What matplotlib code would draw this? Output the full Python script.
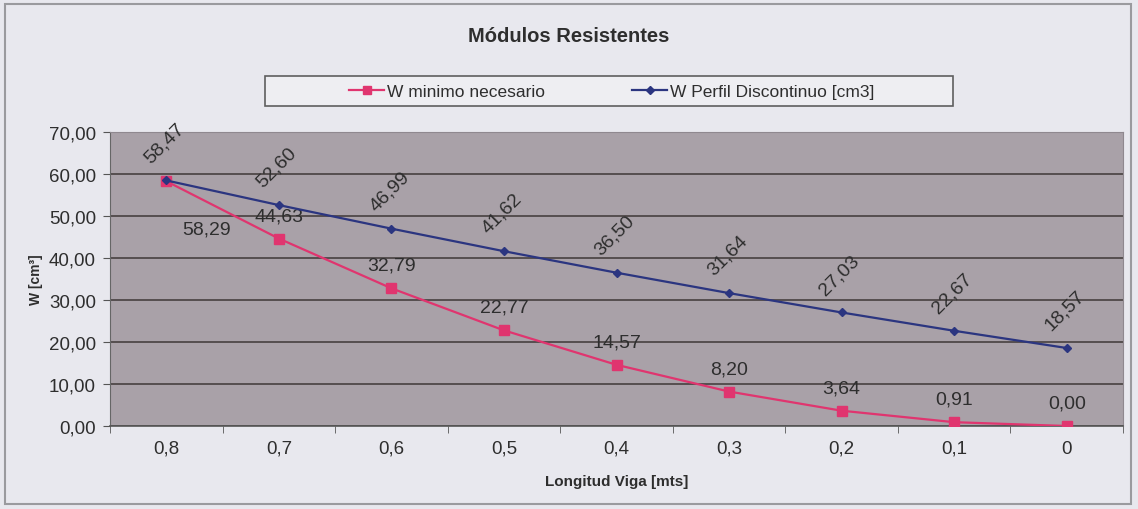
import numpy as np
import matplotlib.pyplot as plt
from matplotlib.lines import Line2D
from matplotlib.patches import Rectangle
from matplotlib.ticker import FixedLocator, FuncFormatter

plt.rcParams['font.family'] = ['Liberation Sans', 'DejaVu Sans']

# ------------------------------------------------------------------
# Datos
# ------------------------------------------------------------------
longitud = ["0,8", "0,7", "0,6", "0,5", "0,4", "0,3", "0,2", "0,1", "0"]
w_perfil = [58.47, 52.60, 46.99, 41.62, 36.50, 31.64, 27.03, 22.67, 18.57]
w_minimo = [58.29, 44.63, 32.79, 22.77, 14.57, 8.20, 3.64, 0.91, 0.00]

col_bg = "#e8e8ee"
col_plot = "#a9a1a8"
col_grid = "#4f4848"
col_rosa = "#e0356f"
col_azul = "#2b3580"
col_txt = "#2e2e2e"

fig = plt.figure(figsize=(11.38, 5.10), dpi=100, facecolor=col_bg)
W, H = 1138, 510

# marco del grafico
fig.patches.append(Rectangle((5 / W, 5 / H), 1126 / W, 500 / H, transform=fig.transFigure,
                             fill=False, edgecolor="#9a9a9e", linewidth=1.5))

ax = fig.add_axes([110 / W, (H - 427) / H, 1013 / W, 294 / H])
ax.set_facecolor(col_plot)

x = np.arange(len(longitud))
ax.plot(x, w_minimo, color=col_rosa, lw=1.6, marker="s", ms=6.5, zorder=3)
ax.plot(x, w_perfil, color=col_azul, lw=1.6, marker="D", ms=4.5, zorder=4)

ax.set_xlim(-0.5, len(longitud) - 0.5)
ax.set_ylim(0, 70)

# eje y
ax.yaxis.set_major_locator(FixedLocator(np.arange(0, 71, 10)))
ax.yaxis.set_major_formatter(FuncFormatter(lambda v, p: f"{v:.2f}".replace(".", ",")))
ax.grid(axis="y", color=col_grid, lw=1.3)
ax.set_axisbelow(True)

# eje x: etiquetas centradas, marcas entre categorias
ax.set_xticks(x)
ax.set_xticklabels(longitud)
ax.set_xticks(np.arange(-0.5, len(longitud), 1), minor=True)
ax.tick_params(axis="x", which="major", length=0, pad=10)
ax.tick_params(axis="x", which="minor", length=5, color="#555555", direction="out")
ax.tick_params(axis="y", length=5, color="#555555", pad=5)
ax.tick_params(labelsize=13.5, labelcolor=col_txt)

for s in ["top", "right"]:
    ax.spines[s].set_color("#8f888f")
ax.spines["left"].set_color("#666666")
ax.spines["bottom"].set_color("#555555")
ax.spines["bottom"].set_linewidth(1.2)

ax.set_xlabel("Longitud Viga [mts]", fontsize=11, fontweight="bold", color=col_txt, labelpad=12)
ax.set_ylabel("W [cm³]", fontsize=10, fontweight="bold", color=col_txt, labelpad=4)

# etiquetas de datos
for xi, v in zip(x, w_perfil):
    ax.annotate(f"{v:.2f}".replace(".", ","), (xi, v), xytext=(-2, 38), textcoords="offset pixels",
                rotation=45, ha="center", va="center", fontsize=14, color=col_txt)

for i, (xi, v) in enumerate(zip(x, w_minimo)):
    off = (40, -48) if i == 0 else (0, 23)
    ax.annotate(f"{v:.2f}".replace(".", ","), (xi, v), xytext=off, textcoords="offset pixels",
                ha="center", va="center", fontsize=14, color=col_txt)

# titulo
fig.text(569 / W, 1 - 37 / H, "Módulos Resistentes", ha="center", va="center",
         fontsize=14.5, fontweight="bold", color=col_txt)

# leyenda
fig.patches.append(Rectangle((265 / W, 1 - 107 / H), 688 / W, 30 / H, transform=fig.transFigure,
                             facecolor="#eeeef2", edgecolor="#5f5f5f", linewidth=1.2))
handles = [
    Line2D([], [], color=col_rosa, lw=1.6, marker="s", ms=5.5),
    Line2D([], [], color=col_azul, lw=1.6, marker="D", ms=4),
]
fig.legend(handles, ["W minimo necesario", "W Perfil Discontinuo [cm3]"], loc="center",
           bbox_to_anchor=(612 / W, 1 - 92 / H), ncol=2, frameon=False, fontsize=12.5,
           handlelength=2.0, handletextpad=0.2, columnspacing=5, labelcolor=col_txt)

fig.savefig("out.png", dpi=100, facecolor=col_bg)
